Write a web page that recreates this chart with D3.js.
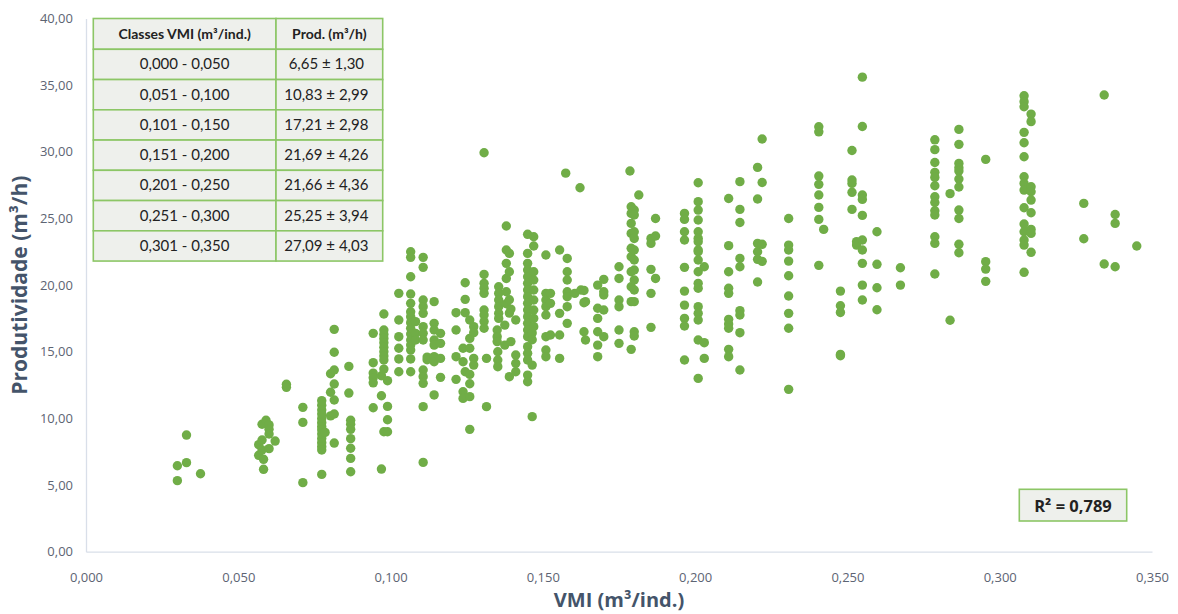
<!DOCTYPE html>
<html>
<head>
<meta charset="UTF-8">
<script src="https://d3js.org/d3.v7.min.js"></script>
<style>
  body { margin: 0; background: #fff; }
  svg { display: block; }
</style>
</head>
<body>
<svg></svg>
<script>

var width = 1178, height = 614;

// ---- datos: cada columna = [VMI, produtividades...]
var colunas = [
  [0.0300, 6.45, 5.33],
  [0.0330, 8.75, 6.68],
  [0.0376, 5.85],
  [0.0567, 8.03, 7.23],
  [0.0578, 9.56, 8.38, 7.63],
  [0.0583, 6.93, 6.18],
  [0.0591, 9.86],
  [0.0601, 9.51, 9.18, 8.83, 7.73],
  [0.0621, 8.30],
  [0.0658, 12.56, 12.33],
  [0.0712, 10.83, 9.70, 5.18],
  [0.0774, 11.33, 10.98, 10.63, 10.33, 10.00, 9.68, 9.38, 9.13, 8.83, 8.50, 8.18, 7.88, 7.63, 5.80],
  [0.0785, 8.95],
  [0.0803, 10.19, 11.96, 13.35],
  [0.0815, 16.68, 14.96, 13.63, 12.58, 11.38, 10.33, 8.15],
  [0.0863, 13.90, 11.90],
  [0.0869, 9.86, 9.56, 9.18, 8.48, 7.76, 7.00, 6.00],
  [0.0943, 16.38, 14.18, 13.40, 13.05, 12.67, 10.80],
  [0.0970, 11.70, 13.20, 6.20],
  [0.0978, 17.83, 16.63, 16.30, 16.00, 15.68, 15.33, 15.00, 14.68, 14.38, 13.70, 9.00],
  [0.0990, 9.00, 12.83, 10.90, 9.90],
  [0.1027, 19.38, 17.38, 16.13, 15.26, 14.46, 13.50],
  [0.1066, 22.50, 22.08, 20.63, 19.33, 18.63, 18.00, 17.63, 17.18, 16.76, 16.33, 15.88, 15.50, 15.13, 14.46, 13.50],
  [0.1082, 17.26, 16.38, 15.88],
  [0.1107, 22.08, 21.33, 18.88, 18.38, 17.88, 16.88, 16.38, 15.88, 13.63, 13.13, 12.63, 10.88, 6.70],
  [0.1120, 14.60, 14.40],
  [0.1143, 18.76, 17.13, 16.63, 15.88, 15.50, 14.63, 14.25, 11.76],
  [0.1164, 16.38, 15.63, 14.50, 13.08],
  [0.1215, 17.93, 16.63, 14.63, 12.93],
  [0.1238, 15.26, 14.25, 12.00, 11.50],
  [0.1245, 20.18, 18.93, 17.93, 13.50],
  [0.1260, 17.38, 16.00, 15.26, 13.30, 12.60, 11.63, 9.18],
  [0.1273, 16.88, 16.43, 14.50, 14.00],
  [0.1307, 29.93, 20.80, 20.13, 19.76, 19.38, 18.13, 17.76, 17.26, 16.76],
  [0.1315, 14.50, 10.88],
  [0.1350, 16.63, 16.13, 15.76],
  [0.1352, 15.00, 14.38, 13.88],
  [0.1355, 19.88, 19.38, 18.88, 18.38, 17.88, 17.50],
  [0.1375, 15.50, 17.00],
  [0.1380, 24.43, 22.63, 21.63, 20.50, 19.50, 18.60],
  [0.1390, 22.38, 21.00, 18.90, 17.90, 13.13],
  [0.1395, 15.76, 18.20],
  [0.1411, 17.38, 14.76, 14.13, 13.50],
  [0.1450, 23.81, 22.38, 21.63, 21.13, 20.63, 20.13, 19.63, 19.13, 18.63, 18.13, 17.63, 17.13, 16.63, 16.13, 15.38, 14.88, 14.38, 13.25, 12.75],
  [0.1465, 16.40, 15.90, 14.00, 10.13],
  [0.1470, 23.63, 22.93, 21.00, 20.38, 19.63, 18.88, 18.13, 17.50, 16.88],
  [0.1510, 22.26, 19.38, 18.88, 18.38, 17.76, 16.13, 15.13, 14.63],
  [0.1525, 19.38, 18.63, 16.26],
  [0.1555, 22.63, 17.88, 16.26, 14.50],
  [0.1575, 28.40],
  [0.1580, 22.00, 21.00, 20.38, 19.50, 19.13, 18.38, 17.13],
  [0.1605, 19.38],
  [0.1622, 27.30],
  [0.1625, 19.63],
  [0.1635, 19.60, 18.68, 16.50],
  [0.1640, 18.76, 15.88],
  [0.1680, 20.00, 18.26, 17.50, 16.50, 15.50, 14.63],
  [0.1700, 20.43, 19.50, 19.26, 18.13, 16.13],
  [0.1750, 21.38, 20.50, 18.88, 18.38, 16.63, 15.63],
  [0.1786, 28.56],
  [0.1790, 25.88, 25.38, 24.63, 23.88, 22.76, 22.13, 21.00, 19.88, 18.76, 15.18],
  [0.1800, 25.63, 25.26, 24.00, 23.50, 22.63, 21.88, 21.13, 20.38, 19.63, 18.76, 16.50, 16.18],
  [0.1815, 26.76],
  [0.1855, 23.50, 23.13, 21.18, 19.38, 16.83],
  [0.1870, 25.00, 23.68, 20.50],
  [0.1965, 25.38, 24.93, 24.00, 23.38, 21.33, 19.55, 18.50, 17.50, 16.93, 14.38],
  [0.2010, 27.68, 26.26, 25.63, 24.88, 24.00, 23.50, 23.26, 22.63, 22.50, 21.88, 21.00, 20.13, 19.76, 18.38, 17.88, 17.38, 15.88, 13.00],
  [0.2030, 21.38, 15.68, 14.50],
  [0.2110, 26.50, 22.96, 21.00, 19.76, 19.38, 17.43, 17.08, 16.76, 15.18, 14.63],
  [0.2147, 27.76, 25.68, 24.70, 22.00, 21.38, 18.08, 17.76, 16.43, 13.63],
  [0.2205, 28.83, 26.46, 23.13, 22.50, 21.93, 20.23],
  [0.2220, 30.96, 27.70, 23.06, 21.78],
  [0.2307, 25.00, 23.00, 22.63, 21.80, 20.70, 19.18, 17.88, 16.76, 12.18],
  [0.2406, 31.88, 31.50, 28.18, 27.56, 26.76, 25.83, 24.93, 21.48],
  [0.2422, 24.18],
  [0.2477, 19.55, 18.45, 17.95, 14.80, 14.70],
  [0.2515, 30.10, 27.88, 27.63, 26.96, 25.68],
  [0.2530, 23.00, 23.26],
  [0.2549, 35.60, 31.90, 26.76, 26.43, 25.23, 23.38, 22.63, 21.63, 20.00, 18.88],
  [0.2597, 24.00, 21.56, 19.80, 18.15],
  [0.2674, 21.30, 20.00],
  [0.2787, 30.90, 30.16, 29.20, 28.46, 28.08, 27.45, 26.63, 26.20, 25.58, 25.26, 23.63, 23.13, 20.83],
  [0.2837, 26.86, 17.36],
  [0.2866, 31.68, 30.56, 29.13, 28.80, 28.56, 27.96, 27.36, 25.63, 25.00, 23.06, 22.43],
  [0.2954, 29.43, 21.76, 21.20, 20.28],
  [0.3080, 34.20, 33.76, 33.38, 31.46, 30.68, 29.63, 28.13, 27.63, 27.13, 25.80, 24.58, 24.00, 23.38, 23.00, 20.96],
  [0.3103, 32.83, 32.26, 27.38, 27.00, 26.38, 25.43, 24.18, 23.88, 22.46],
  [0.3276, 26.13, 23.48],
  [0.3343, 34.26, 21.58],
  [0.3379, 25.30, 24.63, 21.38],
  [0.3450, 22.93]
];

// tabla de clases
var classes = ["0,000 - 0,050", "0,051 - 0,100", "0,101 - 0,150", "0,151 - 0,200",
               "0,201 - 0,250", "0,251 - 0,300", "0,301 - 0,350"];
var prodClasse = ["6,65 ± 1,30", "10,83 ± 2,99", "17,21 ± 2,98", "21,69 ± 4,26",
                  "21,66 ± 4,36", "25,25 ± 3,94", "27,09 ± 4,03"];
var cabecalho = ["Classes VMI (m³/ind.)", "Prod. (m³/h)"];
var r2 = "R² = 0,789";

var xTicks = [0, 0.05, 0.10, 0.15, 0.20, 0.25, 0.30, 0.35];
var yTicks = [0, 5, 10, 15, 20, 25, 30, 35, 40];

// ---- escalas
var locale = d3.formatLocale({ decimal: ",", thousands: ".", grouping: [3], currency: ["", ""] });

var x = d3.scaleLinear().domain([0, 0.35]).range([86, 1152]);
var y = d3.scaleLinear().domain([0, 40]).range([551.7, 18.5]);

var svg = d3.select("svg").attr("width", width).attr("height", height);

// ---- ejes
var axisColor = "#d9dfe9", tickColor = "#5d6473";

var gx = svg.append("g")
  .attr("transform", "translate(0," + y(0) + ")")
  .call(d3.axisBottom(x).tickValues(xTicks).tickFormat(locale.format(".3f"))
        .tickSize(0).tickPadding(21));
var gy = svg.append("g")
  .attr("transform", "translate(" + x(0) + ",0)")
  .call(d3.axisLeft(y).tickValues(yTicks).tickFormat(locale.format(".2f"))
        .tickSize(0).tickPadding(13));

[gx, gy].forEach(function (g) {
  g.select(".domain").attr("stroke", axisColor).attr("stroke-width", 1.3);
  g.selectAll("text")
    .attr("fill", tickColor)
    .style("font-family", "'Open Sans', sans-serif")
    .style("font-size", "13px");
});

svg.append("text")
  .attr("x", (x(0) + x(0.35)) / 2).attr("y", 607)
  .attr("text-anchor", "middle")
  .attr("fill", "#44546a")
  .style("font-family", "'Open Sans', sans-serif").style("font-weight", "bold").style("font-size", "20px")
  .text("VMI (m³/ind.)");

svg.append("text")
  .attr("transform", "translate(27," + (y(20)) + ") rotate(-90)")
  .attr("text-anchor", "middle")
  .attr("fill", "#44546a")
  .style("font-family", "'Open Sans', sans-serif").style("font-weight", "bold").style("font-size", "21px")
  .text("Produtividade (m³/h)");

// ---- puntos
var pontos = [];
colunas.forEach(function (c) {
  for (var i = 1; i < c.length; i++) pontos.push({ vmi: c[0], prod: c[i] });
});

svg.append("g").selectAll("circle")
  .data(pontos)
  .enter().append("circle")
  .attr("cx", function (d) { return x(d.vmi); })
  .attr("cy", function (d) { return y(d.prod); })
  .attr("r", 4.7)
  .attr("fill", "#70ad47");

// ---- tabla
var tabX = 93.3, tabW = [182.7, 106.7], tabY = 18.5, headH = 30.8, rowH = 30.25;
var bordo = "#8cc666", fundo = "#eef0ec";
var tabla = svg.append("g").attr("class", "tabla");

var filas = [cabecalho].concat(classes.map(function (c, i) { return [c, prodClasse[i]]; }));

filas.forEach(function (f, i) {
  var top = i === 0 ? tabY : tabY + headH + (i - 1) * rowH;
  var h = i === 0 ? headH : rowH;
  var cx = tabX;
  f.forEach(function (txt, j) {
    tabla.append("rect")
      .attr("x", cx).attr("y", top).attr("width", tabW[j]).attr("height", h)
      .attr("fill", fundo).attr("stroke", bordo).attr("stroke-width", 1.6);
    tabla.append("text")
      .attr("x", cx + tabW[j] / 2 - (j === 1 && i > 0 ? 3 : 0))
      .attr("y", top + h / 2 + 5)
      .attr("text-anchor", "middle")
      .attr("fill", "#222")
      .style("font-family", "Lato, sans-serif")
      .style("font-size", i === 0 ? "14px" : "15px")
      .style("font-weight", i === 0 ? "bold" : "normal")
      .text(txt);
    cx += tabW[j];
  });
});

// ---- caja R²
svg.append("rect")
  .attr("x", 1019.3).attr("y", 489.3).attr("width", 107.4).attr("height", 31.7)
  .attr("fill", fundo).attr("stroke", bordo).attr("stroke-width", 1.6);
svg.append("text")
  .attr("x", 1073).attr("y", 512)
  .attr("text-anchor", "middle")
  .attr("fill", "#222")
  .style("font-family", "'Open Sans', sans-serif").style("font-weight", "bold").style("font-size", "16.5px")
  .text(r2);

</script>
</body>
</html>
